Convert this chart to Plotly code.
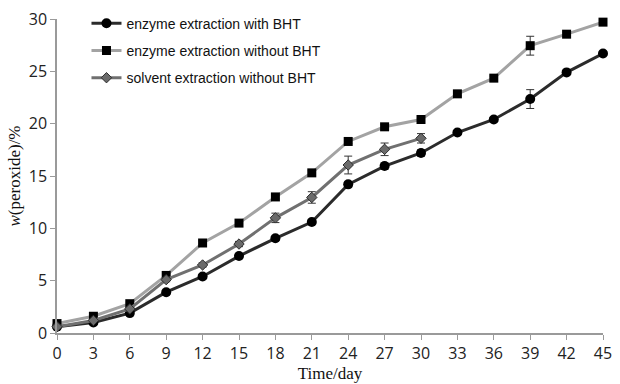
import plotly.graph_objects as go

days = [0, 3, 6, 9, 12, 15, 18, 21, 24, 27, 30, 33, 36, 39, 42, 45]

# enzyme extraction with BHT
with_bht = [0.6, 1.0, 1.9, 3.9, 5.4, 7.35, 9.05, 10.6, 14.2, 15.95, 17.2, 19.15, 20.4, 22.35, 24.9, 26.7]
with_bht_err = [0.1, 0.1, 0.15, 0.2, 0.2, 0.2, 0.2, 0.2, 0.25, 0.3, 0.3, 0.2, 0.2, 0.9, 0.2, 0.2]

# enzyme extraction without BHT
without_bht = [0.9, 1.6, 2.8, 5.5, 8.6, 10.5, 13.0, 15.3, 18.3, 19.7, 20.4, 22.85, 24.35, 27.45, 28.55, 29.7]
without_bht_err = [0.1, 0.1, 0.15, 0.2, 0.2, 0.2, 0.2, 0.2, 0.2, 0.2, 0.2, 0.2, 0.2, 0.9, 0.2, 0.2]

# solvent extraction without BHT (to day 30)
solvent_days = [0, 3, 6, 9, 12, 15, 18, 21, 24, 27, 30]
solvent = [0.6, 1.2, 2.3, 5.1, 6.5, 8.5, 11.0, 12.95, 16.05, 17.55, 18.6]
solvent_err = [0.1, 0.1, 0.15, 0.2, 0.2, 0.25, 0.45, 0.55, 0.85, 0.6, 0.45]

x_ticks = list(range(0, 46, 3))
y_ticks = [0, 5, 10, 15, 20, 25, 30]

fig = go.Figure()

fig.add_trace(go.Scatter(
    x=days, y=with_bht, name="enzyme extraction with BHT",
    mode="lines+markers", legendgroup="a",
    line=dict(color="#2b2b2b", width=3),
    marker=dict(symbol="circle", size=10, color="#000000"),
    error_y=dict(type="data", array=with_bht_err, color="#333333", thickness=1, width=4),
    cliponaxis=False,
))
fig.add_trace(go.Scatter(
    x=days, y=without_bht, name="enzyme extraction without BHT",
    mode="lines+markers", legendgroup="b",
    line=dict(color="#a3a3a3", width=3),
    marker=dict(symbol="square", size=9, color="#000000"),
    error_y=dict(type="data", array=without_bht_err, color="#333333", thickness=1, width=4),
    cliponaxis=False,
))
fig.add_trace(go.Scatter(
    x=solvent_days, y=solvent, name="solvent extraction without BHT",
    mode="lines+markers", legendgroup="c",
    line=dict(color="#707070", width=3),
    marker=dict(symbol="diamond", size=8, color="#6a6a6a", line=dict(color="#2e2e2e", width=1)),
    error_y=dict(type="data", array=solvent_err, color="#333333", thickness=1, width=4),
    cliponaxis=False,
))

tick_font = dict(family="Open Sans, DejaVu Sans, sans-serif", size=16, color="#222222")

fig.update_layout(
    width=620, height=384,
    margin=dict(l=57, r=8, t=17, b=45),
    paper_bgcolor="white", plot_bgcolor="white",
    showlegend=True,
    legend=dict(
        x=0.054, y=1.036, xanchor="left", yanchor="top",
        font=dict(family="Liberation Sans, Arial, sans-serif", size=14, color="#111111"),
        bgcolor="rgba(255,255,255,0)",
        traceorder="grouped", tracegroupgap=6,
    ),
    xaxis=dict(
        range=[0, 45], tickmode="array", tickvals=x_ticks,
        ticktext=[str(v) for v in x_ticks],
        showgrid=False, zeroline=False,
        showline=True, linecolor="#9a9a9a", linewidth=1.5,
        ticks="outside", ticklen=5, tickcolor="#9a9a9a",
        tickfont=tick_font, ticklabeloverflow="allow",
        title=dict(text="Time/day", font=dict(family="Liberation Serif, Times New Roman, serif", size=17, color="#111111"), standoff=0),
    ),
    yaxis=dict(
        range=[0, 30], tickmode="array", tickvals=y_ticks,
        showgrid=False, zeroline=False,
        showline=True, linecolor="#9a9a9a", linewidth=1.5,
        ticks="outside", ticklen=5, tickcolor="#9a9a9a",
        tickfont=tick_font, ticklabeloverflow="allow",
        title=dict(text="<i>w</i>(peroxide)/%", font=dict(family="Liberation Serif, Times New Roman, serif", size=17, color="#111111"), standoff=4),
    ),
)

fig.write_html("out.html")
